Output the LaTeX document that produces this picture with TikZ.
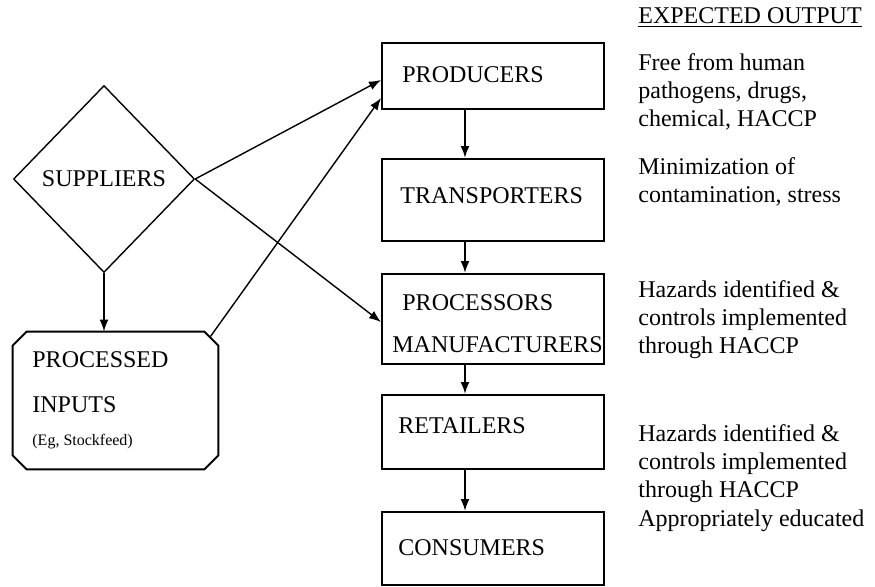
\documentclass[tikz,border=0pt]{standalone}
\usepackage{fontspec}
\setmainfont{Liberation Serif}
\usetikzlibrary{arrows.meta,shapes.geometric}
\tikzset{
    stage text/.style={
        font=\fontsize{12}{13.8}\selectfont,
        anchor=base west,
        align=left,
        inner sep=0pt
    }
}

\begin{document}
\begin{tikzpicture}[x=0.5pt, y=-0.5pt, >={Latex[length=6pt,width=4.5pt]}]

    \tikzstyle{stage} = [
        rectangle,
        draw=black,
        line width=1pt,
        minimum width=111pt,
        inner sep=0pt
    ]
    \tikzstyle{supply} = [
        diamond,
        draw=black,
        line width=0.7pt,
        minimum width=90.5pt,
        minimum height=93.5pt,
        inner sep=1pt,
        font=\fontsize{12}{13.8}\selectfont
    ]
    \tikzstyle{inputs} = [
        rectangle,
        minimum width=102.5pt,
        minimum height=68.5pt,
        inner sep=0pt
    ]

    \useasboundingbox (0,0) rectangle (875,586);

    % left side
    \node[supply] (sup) at (104,179) {SUPPLIERS};
    \node[inputs] (pin) at (115.5,400.5) {};
    \draw[line width=1pt]
        ([xshift=7pt]pin.north west) -- ([xshift=-7pt]pin.north east)
        -- ([yshift=-7pt]pin.north east) -- ([yshift=7pt]pin.south east)
        -- ([xshift=-7pt]pin.south east) -- ([xshift=7pt]pin.south west)
        -- ([yshift=7pt]pin.south west) -- ([yshift=-7pt]pin.north west) -- cycle;
    \coordinate (pincorner) at ([xshift=-4pt, yshift=-2.5pt]pin.north east);
    \node[stage text] (pintext) at (32,367) {PROCESSED};
    \node[stage text] (pintext2) at (32,412) {INPUTS};
    \node[stage text, font=\fontsize{8}{9.6}\selectfont] (pinnote) at (32,445) {(Eg, Stockfeed)};

    % chain of boxes
    \node[stage, minimum height=33pt] (prod) at (493,76) {};
    \node[stage, minimum height=41pt] (trans) at (493,200) {};
    \node[stage, minimum height=45pt] (proc) at (493,319) {};
    \node[stage, minimum height=37pt] (ret) at (493,432) {};
    \node[stage, minimum height=36.5pt] (cons) at (493,548.5) {};

    \node[stage text] (prodtext) at (402,82) {PRODUCERS};
    \node[stage text] (transtext) at (400,203) {TRANSPORTERS};
    \node[stage text] (proctext) at (402,310) {PROCESSORS};
    \node[stage text] (proctext2) at (392,352) {MANUFACTURERS};
    \node[stage text] (rettext) at (398,433) {RETAILERS};
    \node[stage text] (constext) at (398,555) {CONSUMERS};

    % expected output column (base = last line)
    \node[stage text] (head) at (638,23) {\underline{EXPECTED OUTPUT}};
    \node[stage text] (out1) at (638,126) {Free from human\\pathogens, drugs,\\chemical, HACCP};
    \node[stage text] (out2) at (638,202) {Minimization of\\contamination, stress};
    \node[stage text] (out3) at (638,353) {Hazards identified \&\\controls implemented\\through HACCP};
    \node[stage text] (out4) at (638,497) {Hazards identified \&\\controls implemented\\through HACCP};
    \node[stage text] (out5) at (638,526) {Appropriately educated};

    % arrows
    \draw[->, line width=0.7pt] (sup.east) -- ([yshift=-2pt]prod.west);
    \draw[->, line width=0.7pt] (sup.east) -- ([yshift=-1.5pt]proc.west);
    \draw[->, line width=0.7pt] (pincorner) -- ([yshift=6pt]prod.south west);
    \draw[->, line width=1pt] (sup.south) -- (sup.south |- pin.north);
    \foreach \a/\b in {prod/trans, trans/proc, proc/ret, ret/cons}
        \draw[->, line width=1pt] ([xshift=-14pt]\a.south) -- ([xshift=-14pt]\b.north);

\end{tikzpicture}
\end{document}
